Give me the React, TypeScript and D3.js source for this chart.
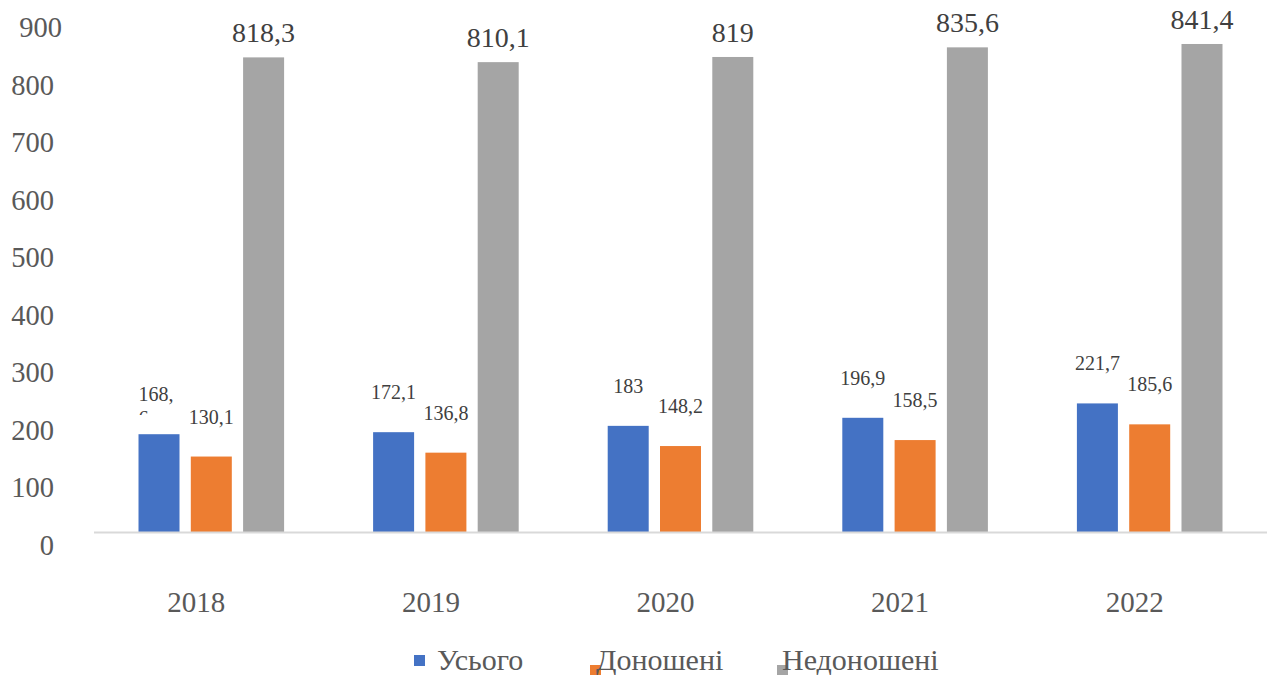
import React from "react";
import * as d3 from "d3";

const years = ["2018", "2019", "2020", "2021", "2022"];
const totalValues = [168.6, 172.1, 183, 196.9, 221.7];
const fullTermValues = [130.1, 136.8, 148.2, 158.5, 185.6];
const pretermValues = [818.3, 810.1, 819, 835.6, 841.4];
const seriesNames = ["Усього", "Доношені", "Недоношені"];
const seriesColors = ["#4472C4", "#ED7D31", "#A5A5A5"];
const yTicks = [0, 100, 200, 300, 400, 500, 600, 700, 800, 900];
const wrappedLabels = ["168,6"];

const W = 1267;
const H = 675;
const FONT = "Liberation Serif, Times New Roman, DejaVu Serif, serif";

export default function App() {
  const series = [totalValues, fullTermValues, pretermValues];
  const x0 = d3.scaleBand<string>().domain(years).range([94, 1267]).padding(0);
  const x1 = d3
    .scaleBand<number>()
    .domain([0, 1, 2])
    .range([0, x0.bandwidth()])
    .paddingInner(0.216)
    .paddingOuter(0.851);
  const y = d3.scaleLinear().domain([0, 900]).range([532, 10]);
  const yLabel = d3.scaleLinear().domain([0, 900]).range([555, 37]);
  const fmt = (v: number) => String(v).replace(".", ",");

  const legendItems = [
    { mx: 414, my: 655, tx: 437 },
    { mx: 590, my: 665, tx: 596 },
    { mx: 777, my: 665, tx: 782 },
  ];

  return (
    <svg
      width={W}
      height={H}
      style={{ position: "absolute", left: 0, top: 0, background: "#fff", fontFamily: FONT }}
    >
      <defs>
        <clipPath id="wrapClip">
          <rect x={0} y={0} width={W} height={415} />
        </clipPath>
      </defs>
      {/* y labels */}
      {yTicks.map((t) => (
        <text
          key={t}
          x={t === 900 ? 62 : 54}
          y={yLabel(t)}
          textAnchor="end"
          fontSize={28.5}
          fill="#595959"
          style={{ fontFamily: FONT }}
        >
          {t}
        </text>
      ))}
      {/* bars */}
      {years.map((yr, i) => (
        <g key={yr} transform={`translate(${x0(yr)},0)`}>
          {series.map((vals, s) => (
            <rect
              key={s}
              x={x1(s)}
              y={y(vals[i])}
              width={x1.bandwidth()}
              height={y(0) - y(vals[i])}
              fill={seriesColors[s]}
            />
          ))}
        </g>
      ))}
      {/* axis line */}
      <line x1={94} x2={1267} y1={532.5} y2={532.5} stroke="#d9d9d9" strokeWidth={2} />
      {/* data labels */}
      {years.map((yr, i) =>
        series.map((vals, s) => {
          const cx = (x0(yr) as number) + (x1(s) as number) + x1.bandwidth() / 2;
          const big = s === 2;
          const label = fmt(vals[i]);
          const by = y(vals[i]) - (big ? 15 : 33);
          const fs = big ? 28 : 20;
          if (wrappedLabels.includes(label)) {
            const first = label.slice(0, label.length - 1);
            const rest = label.slice(label.length - 1);
            const startX = cx - 3 - (first.length - 1) * fs * 0.5 / 2 - fs * 0.25 / 2;
            return (
              <g key={`${yr}-${s}`} fill="#404040" fontSize={fs} style={{ fontFamily: FONT }}>
                <text x={startX} y={by}>{first}</text>
                <text x={startX} y={by + fs * 1.2} clipPath="url(#wrapClip)">{rest}</text>
              </g>
            );
          }
          return (
            <text
              key={`${yr}-${s}`}
              x={cx}
              y={by}
              textAnchor="middle"
              fontSize={fs}
              fill="#404040"
              style={{ fontFamily: FONT }}
            >
              {label}
            </text>
          );
        })
      )}
      {/* x labels */}
      {years.map((yr) => (
        <text
          key={yr}
          x={(x0(yr) as number) + x0.bandwidth() / 2 - 15}
          y={612}
          textAnchor="middle"
          fontSize={29}
          fill="#595959"
          style={{ fontFamily: FONT }}
        >
          {yr}
        </text>
      ))}
      {/* legend */}
      {seriesNames.map((n, s) => (
        <rect
          key={`m${s}`}
          x={legendItems[s].mx}
          y={legendItems[s].my}
          width={11}
          height={11}
          fill={seriesColors[s]}
        />
      ))}
      {seriesNames.map((n, s) => (
        <text
          key={`t${s}`}
          x={legendItems[s].tx}
          y={670}
          fontSize={30}
          fill="#595959"
          style={{ fontFamily: FONT }}
        >
          {n}
        </text>
      ))}
    </svg>
  );
}
